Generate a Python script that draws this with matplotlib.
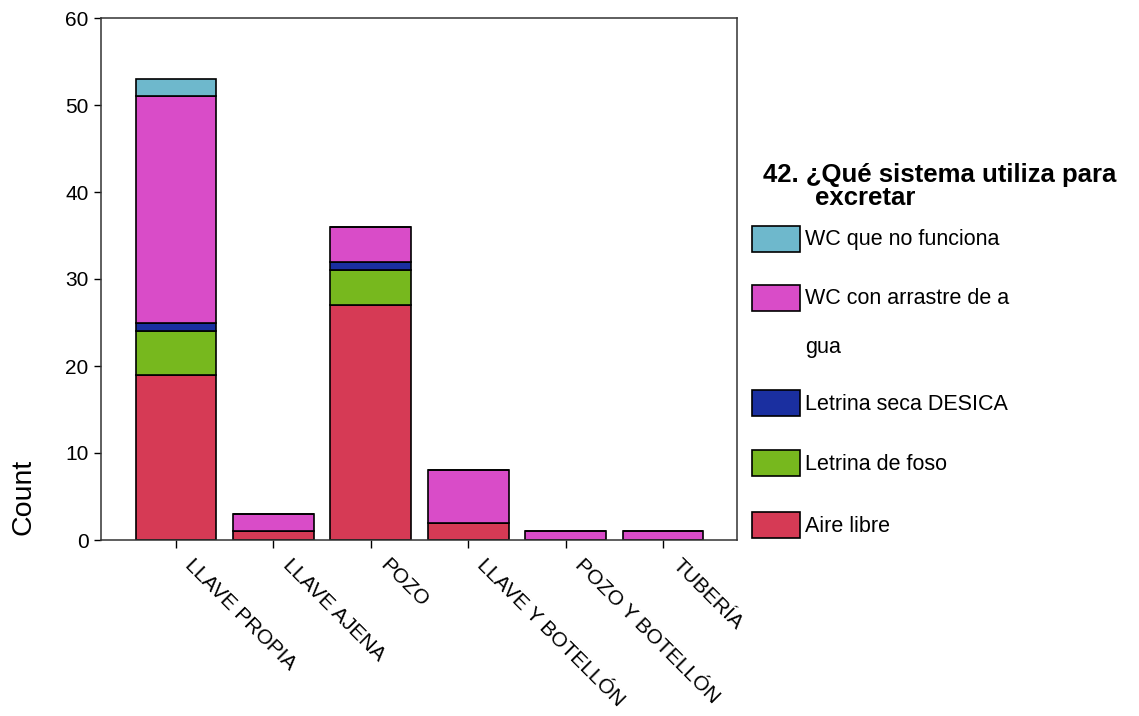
import matplotlib
matplotlib.use("Agg")
import matplotlib.pyplot as plt
from matplotlib.patches import Rectangle
from matplotlib.transforms import ScaledTranslation
import numpy as np

plt.rcParams['font.family'] = ['Liberation Sans', 'DejaVu Sans']

# categories on the x axis
categories = ['LLAVE PROPIA', 'LLAVE AJENA', 'POZO', 'LLAVE Y BOTELLÓN',
              'POZO Y BOTELLÓN', 'TUBERÍA']

# stacked series, bottom to top
aire_libre = [19, 1, 27, 2, 0, 0]
letrina_foso = [5, 0, 4, 0, 0, 0]
letrina_desica = [1, 0, 1, 0, 0, 0]
wc_arrastre = [26, 2, 4, 6, 1, 1]
wc_no_funciona = [2, 0, 0, 0, 0, 0]

series = [aire_libre, letrina_foso, letrina_desica, wc_arrastre, wc_no_funciona]
series_labels = ['Aire libre', 'Letrina de foso', 'Letrina seca DESICA',
                 'WC con arrastre de a\n\ngua', 'WC que no funciona']
colors = ['#d63a55', '#77b81e', '#1a2fa0', '#d94cc8', '#6eb8cc']

W, H = 1139, 716
fig = plt.figure(figsize=(W / 100, H / 100), dpi=100)
ax = fig.add_axes([101 / W, 1 - 540 / H, (737 - 101) / W, (540 - 18) / H])

x = np.arange(len(categories))
bottom = np.zeros(len(categories))
for vals, col in zip(series, colors):
    vals = np.array(vals, dtype=float)
    ax.bar(x, vals, width=0.83, bottom=bottom, color=col,
           edgecolor='black', linewidth=1.2, zorder=2)
    bottom += vals

ax.set_xlim(-0.77, 5.76)
ax.set_ylim(0, 60)
ax.set_yticks(range(0, 61, 10))
ax.tick_params(axis='y', labelsize=15, length=5, width=1, pad=4)
ax.tick_params(axis='x', length=6, width=1)
ax.set_xticks(x)
ax.set_xticklabels(categories, rotation=-45, rotation_mode='anchor',
                   ha='left', va='center', fontsize=15)
shift = ScaledTranslation(12 / 100, 4 / 100, fig.dpi_scale_trans)
for lbl in ax.get_xticklabels():
    lbl.set_y(-0.025)
    lbl.set_transform(lbl.get_transform() + shift)
for s in ax.spines.values():
    s.set_linewidth(1.1)
    s.set_color('#333333')

fig.text(23 / W, 1 - 497 / H, 'Count', rotation=90, fontsize=20.5,
         ha='center', va='center')


def fpos(px, py):
    return px / W, 1 - py / H


# legend, drawn by hand in figure pixels
fig.text(*fpos(763, 175), '42. ¿Qué sistema utiliza para', fontsize=18.5,
         fontweight='bold', ha='left', va='center')
fig.text(*fpos(815, 198), 'excretar', fontsize=18.5,
         fontweight='bold', ha='left', va='center')

legend_rows = [(226, 4), (285, 3), (390, 2), (450, 1), (512, 0)]
for top, idx in legend_rows:
    x0, y0 = fpos(752, top + 26)
    fig.add_artist(Rectangle((x0, y0), 48 / W, 26 / H, transform=fig.transFigure,
                             facecolor=colors[idx], edgecolor='black', linewidth=1.2))
    lines = series_labels[idx].split('\n')
    fig.text(*fpos(805, top + 14), lines[0], fontsize=15.5, ha='left', va='center')
    if len(lines) > 1:
        fig.text(*fpos(805, top + 62), lines[-1], fontsize=15.5, ha='left', va='center')

fig.savefig('out.png', dpi=100)
